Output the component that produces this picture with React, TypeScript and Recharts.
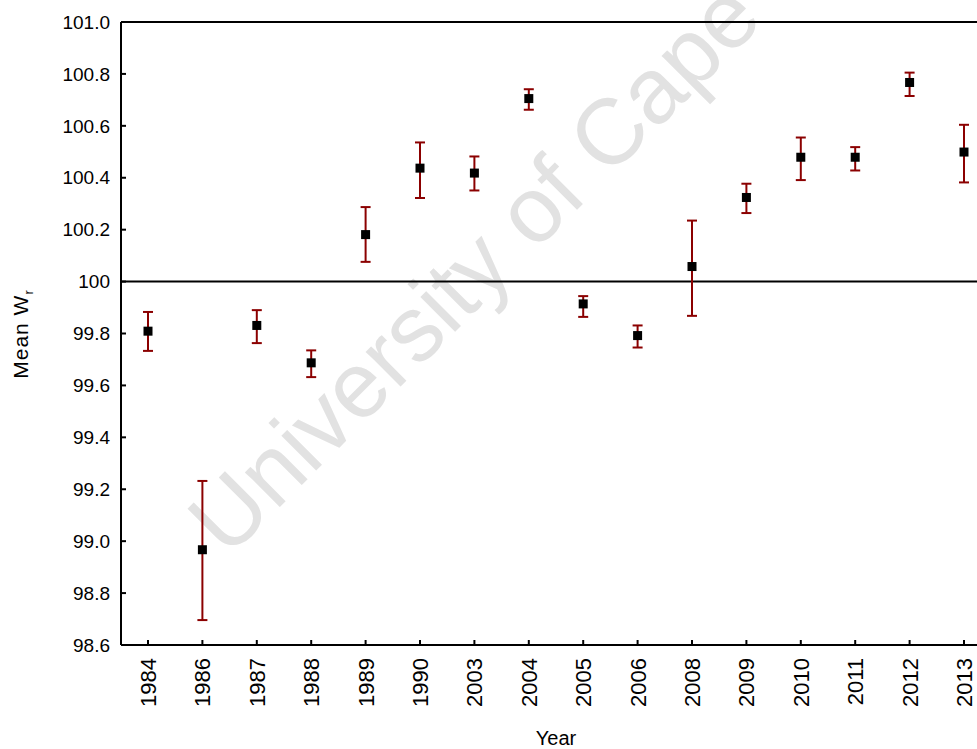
import React from 'react';
import {
  ComposedChart,
  Scatter,
  ErrorBar,
  XAxis,
  YAxis,
  ReferenceLine,
  Label,
} from 'recharts';

const years = [
  '1984', '1986', '1987', '1988', '1989', '1990', '2003', '2004',
  '2005', '2006', '2008', '2009', '2010', '2011', '2012', '2013',
];

const meanWr = [
  99.809, 98.967, 99.831, 99.687, 100.181, 100.437, 100.418, 100.705,
  99.914, 99.792, 100.058, 100.324, 100.479, 100.479, 100.767, 100.499,
];

const upperWr = [
  99.883, 99.232, 99.89, 99.735, 100.287, 100.536, 100.482, 100.741,
  99.944, 99.831, 100.235, 100.377, 100.555, 100.518, 100.805, 100.604,
];

const lowerWr = [
  99.733, 98.696, 99.763, 99.632, 100.076, 100.322, 100.351, 100.662,
  99.864, 99.746, 99.868, 100.264, 100.391, 100.428, 100.715, 100.382,
];

const yTicks = [98.6, 98.8, 99.0, 99.2, 99.4, 99.6, 99.8, 100, 100.2, 100.4, 100.6, 100.8, 101.0];
const yTickLabels = ['98.6', '98.8', '99.0', '99.2', '99.4', '99.6', '99.8', '100', '100.2', '100.4', '100.6', '100.8', '101.0'];

const FONT = 'Arial, "Liberation Sans", sans-serif';
const ERR_RED = '#8b0000';

const chartData = years.map((year, i) => ({
  year,
  mean: meanWr[i],
  err: [meanWr[i] - lowerWr[i], upperWr[i] - meanWr[i]],
}));

function SquareMarker({ cx, cy }: { cx?: number; cy?: number }) {
  if (cx == null || cy == null) return null;
  return <rect x={cx - 4.5} y={cy - 4.5} width={9} height={9} fill="#000" />;
}

function YearTick({ x, y, payload }: { x?: number; y?: number; payload?: { value: string } }) {
  return (
    <text
      x={x}
      y={y}
      transform={`rotate(-90, ${x}, ${y})`}
      textAnchor="end"
      dy="0.36em"
      fontSize={22}
      fontFamily={FONT}
      fill="#000"
    >
      {payload?.value}
    </text>
  );
}

function YTitle() {
  return (
    <text
      transform="translate(28, 334) rotate(-90)"
      textAnchor="middle"
      fontSize={21}
      letterSpacing={1}
      fontFamily={FONT}
      fill="#000"
    >
      Mean W
      <tspan dy={5} fontSize={13}>
        r
      </tspan>
    </text>
  );
}

export default function App() {
  return (
    <div
      style={{
        position: 'absolute',
        left: 0,
        top: 0,
        width: 977,
        height: 749,
        overflow: 'hidden',
        background: '#fff',
      }}
    >
      {/* watermark behind the plot */}
      <svg width={977} height={749} style={{ position: 'absolute', left: 0, top: 0 }}>
        <text
          transform="translate(478, 272) rotate(-45)"
          textAnchor="middle"
          dy="0.28em"
          fontSize={93}
          fontFamily={FONT}
          fill="#e2e2e2"
        >
          University of Cape
        </text>
      </svg>

      <div style={{ position: 'absolute', left: 0, top: 0 }}>
        <ComposedChart
          width={1000}
          height={749}
          data={chartData}
          margin={{ top: 22, right: 9, bottom: 0, left: 0 }}
        >
          <XAxis
            dataKey="year"
            type="category"
            interval={0}
            height={104}
            padding={{ left: 27, right: 27 }}
            tickSize={-5}
            tickMargin={18}
            tick={<YearTick />}
            axisLine={{ stroke: '#000', strokeWidth: 2 }}
            tickLine={{ stroke: '#000', strokeWidth: 2 }}
          >
            <Label
              value="Year"
              position="insideBottom"
              offset={4}
              style={{ fontSize: 20, fontFamily: FONT, fill: '#000' }}
            />
          </XAxis>
          <YAxis
            type="number"
            domain={[98.6, 101]}
            ticks={yTicks}
            width={121}
            interval={0}
            tickSize={-5}
            tickMargin={16}
            tickFormatter={(v: number) => yTickLabels[yTicks.indexOf(v)] ?? String(v)}
            tick={{ fontSize: 19, fontFamily: FONT, fill: '#000' }}
            axisLine={{ stroke: '#000', strokeWidth: 2 }}
            tickLine={{ stroke: '#000', strokeWidth: 2 }}
          >
            <Label content={<YTitle />} />
          </YAxis>

          <ReferenceLine y={101} stroke="#000" strokeWidth={2} />
          <ReferenceLine y={100} stroke="#000" strokeWidth={2} />

          <Scatter dataKey="mean" shape={<SquareMarker />} isAnimationActive={false}>
            <ErrorBar
              dataKey="err"
              direction="y"
              width={5}
              stroke={ERR_RED}
              strokeWidth={2}
              isAnimationActive={false}
            />
          </Scatter>
        </ComposedChart>
      </div>
    </div>
  );
}
